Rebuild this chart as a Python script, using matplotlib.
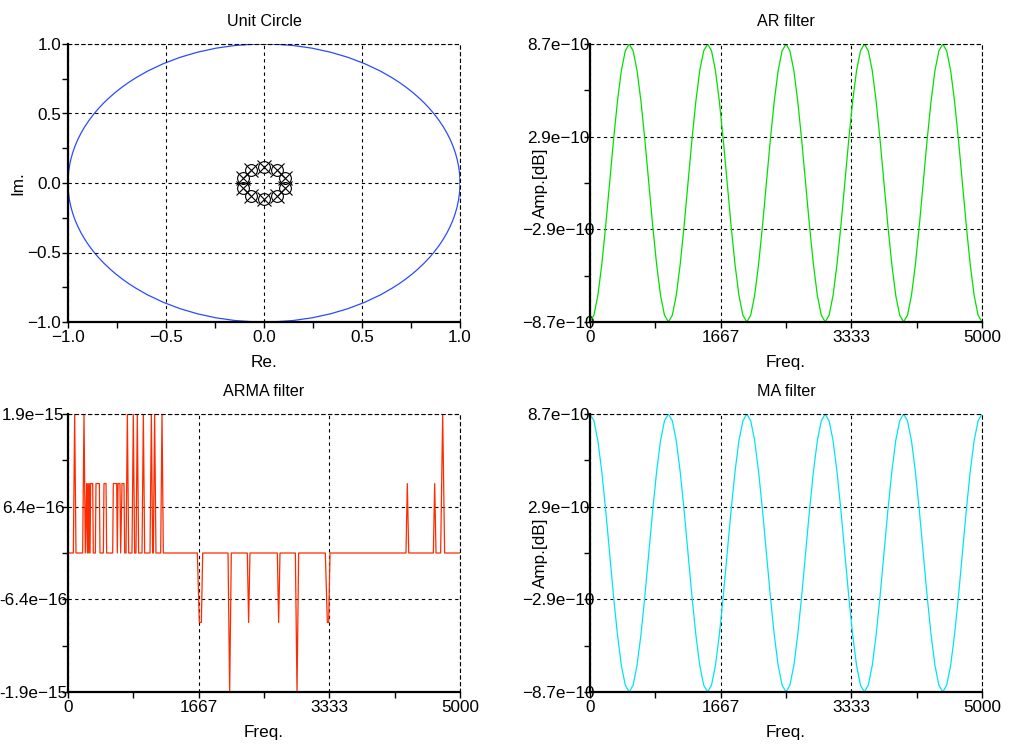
import numpy as np
import matplotlib
matplotlib.use('Agg')
import matplotlib.pyplot as plt
from matplotlib.patches import Circle

plt.rcParams['font.family'] = ['Liberation Sans', 'DejaVu Sans']
plt.rcParams['font.size'] = 12.3

# poles / zeros
pz_re = [0.105, 0.065, 0.0, -0.065, -0.105, -0.105, -0.065, 0.0, 0.065, 0.105]
pz_im = [0.036, 0.093, 0.115, 0.093, 0.036, -0.036, -0.093, -0.115, -0.093, -0.036]

# AR / MA response, sampled every 50 Hz, in units of 1e-10 dB
freq = np.linspace(0, 5000, 101)
ar_amp = [
    -8.7, -8.27, -7.04, -5.11, -2.69, 0.0, 2.69, 5.11, 7.04, 8.27, 8.7, 8.27, 7.04, 5.11, 2.69, 0.0, -2.69, -5.11, -7.04, -8.27,
    -8.7, -8.27, -7.04, -5.11, -2.69, 0.0, 2.69, 5.11, 7.04, 8.27, 8.7, 8.27, 7.04, 5.11, 2.69, 0.0, -2.69, -5.11, -7.04, -8.27,
    -8.7, -8.27, -7.04, -5.11, -2.69, 0.0, 2.69, 5.11, 7.04, 8.27, 8.7, 8.27, 7.04, 5.11, 2.69, 0.0, -2.69, -5.11, -7.04, -8.27,
    -8.7, -8.27, -7.04, -5.11, -2.69, 0.0, 2.69, 5.11, 7.04, 8.27, 8.7, 8.27, 7.04, 5.11, 2.69, 0.0, -2.69, -5.11, -7.04, -8.27,
    -8.7, -8.27, -7.04, -5.11, -2.69, 0.0, 2.69, 5.11, 7.04, 8.27, 8.7, 8.27, 7.04, 5.11, 2.69, 0.0, -2.69, -5.11, -7.04, -8.27,
    -8.7]
ma_amp = [
    8.7, 8.27, 7.04, 5.11, 2.69, 0.0, -2.69, -5.11, -7.04, -8.27, -8.7, -8.27, -7.04, -5.11, -2.69, 0.0, 2.69, 5.11, 7.04, 8.27,
    8.7, 8.27, 7.04, 5.11, 2.69, 0.0, -2.69, -5.11, -7.04, -8.27, -8.7, -8.27, -7.04, -5.11, -2.69, 0.0, 2.69, 5.11, 7.04, 8.27,
    8.7, 8.27, 7.04, 5.11, 2.69, 0.0, -2.69, -5.11, -7.04, -8.27, -8.7, -8.27, -7.04, -5.11, -2.69, 0.0, 2.69, 5.11, 7.04, 8.27,
    8.7, 8.27, 7.04, 5.11, 2.69, 0.0, -2.69, -5.11, -7.04, -8.27, -8.7, -8.27, -7.04, -5.11, -2.69, 0.0, 2.69, 5.11, 7.04, 8.27,
    8.7, 8.27, 7.04, 5.11, 2.69, 0.0, -2.69, -5.11, -7.04, -8.27, -8.7, -8.27, -7.04, -5.11, -2.69, 0.0, 2.69, 5.11, 7.04, 8.27,
    8.7]

# ARMA response (rounding noise), vertices in Hz and units of 1e-16 dB
arma_freq = [0, 68, 85, 102, 187, 204, 221, 238, 247, 255, 264, 272, 281, 289, 315, 323,
             349, 357, 400, 408, 451, 459, 485, 493, 570, 578, 621, 629, 638, 663, 672,
             689, 714, 723, 740, 757, 774, 816, 833, 850, 867, 884, 901, 944, 961, 978,
             1046, 1063, 1080, 1088, 1105, 1122, 1182, 1199, 1216,
             1650, 1675, 1701, 1718, 2041, 2062, 2083, 2287, 2304, 2321, 2670, 2687, 2704,
             2900, 2921, 2942, 3282, 3308, 3325, 3342,
             4311, 4328, 4346, 4660, 4677, 4694, 4753, 4779, 4804, 5000]
arma_amp = [0, 0, 19.3, 0, 0, 19.3, 0, 9.64, 0, 9.64, 0, 9.64, 0, 9.64, 9.64, 0,
            0, 9.64, 9.64, 0, 0, 9.64, 9.64, 0, 0, 9.64, 9.64, 0, 9.64, 9.64, 0,
            9.64, 9.64, 0, 0, 19.3, 0, 0, 19.3, 0, 0, 19.3, 0, 0, 19.3, 0,
            0, 19.3, 0, 0, 19.3, 0, 0, 19.3, 0,
            0, -9.64, -9.64, 0, 0, -19.3, 0, 0, -9.64, 0, 0, -9.64, 0,
            0, -19.3, 0, 0, -9.64, -9.64, 0,
            0, 9.64, 0, 0, 9.64, 0, 0, 19.3, 0, 0]

freq_ticks = [0, 1667, 3333, 5000]
freq_minor = [833, 2500, 4167]
freq_labels = ['0', '1667', '3333', '5000']
amp_ticks = [-8.7e-10, -2.9e-10, 2.9e-10, 8.7e-10]
amp_minor = [-5.8e-10, 0, 5.8e-10]
amp_labels = ['\u22128.7e\u221210', '\u22122.9e\u221210', '2.9e\u221210', '8.7e\u221210']
arma_ticks = [-1.93e-15, -6.43e-16, 6.43e-16, 1.93e-15]
arma_minor = [-1.29e-15, 0, 1.29e-15]
arma_labels = ['-1.9e\u221215', '-6.4e\u221216', '6.4e\u221216', '1.9e\u221215']
uc_ticks = [-1.0, -0.5, 0.0, 0.5, 1.0]
uc_minor = [-0.75, -0.25, 0.25, 0.75]
uc_labels = ['\u22121.0', '\u22120.5', '0.0', '0.5', '1.0']


def style(ax, xt, xm, xl, yt, ym, yl, ha, ypad):
    ax.set_xlim(xt[0], xt[-1])
    ax.set_ylim(yt[0], yt[-1])
    ax.set_xticks(xt, xl)
    ax.set_xticks(xm, minor=True)
    ax.set_yticks(yt, yl)
    ax.set_yticks(ym, minor=True)
    ax.grid(True, which='major', color='black', linestyle=(0, (3, 3)), linewidth=0.8)
    for s in ['top', 'right']:
        ax.spines[s].set_linestyle((0, (3, 3)))
        ax.spines[s].set_linewidth(0.8)
    for s in ['left', 'bottom']:
        ax.spines[s].set_linewidth(1.6)
    ax.tick_params(which='both', direction='out', length=4.5, width=1)
    ax.tick_params(axis='x', pad=1.5)
    ax.tick_params(axis='y', pad=ypad)
    for lab in ax.get_yticklabels():
        lab.set_ha(ha)


fig = plt.figure(figsize=(10.09, 7.44), dpi=100)
W, H = 392 / 1009, 278 / 744
ax1 = fig.add_axes([68 / 1009, 1 - 322 / 744, W, H])
ax2 = fig.add_axes([590 / 1009, 1 - 322 / 744, W, H])
ax3 = fig.add_axes([68 / 1009, 1 - 692 / 744, W, H])
ax4 = fig.add_axes([590 / 1009, 1 - 692 / 744, W, H])

title_kw = dict(fontsize=11.6, pad=13)

# unit circle
ax1.add_patch(Circle((0, 0), 1.0, fill=False, color='#2a4bff', linewidth=0.9))
ax1.plot(pz_re, pz_im, 'o', mfc='none', mec='black', ms=8.5, mew=0.8)
ax1.plot(pz_re, pz_im, 'x', color='black', ms=10.5, mew=0.8)
style(ax1, uc_ticks, uc_minor, uc_labels, uc_ticks, uc_minor, uc_labels, 'right', 0.5)
ax1.set_title('Unit Circle', **title_kw)
ax1.set_xlabel('Re.')
ax1.set_ylabel('Im.')

# AR
ax2.plot(freq, np.array(ar_amp) * 1e-10, color='#00e000', linewidth=0.9)
style(ax2, freq_ticks, freq_minor, freq_labels, amp_ticks, amp_minor, amp_labels, 'center', 18.5)
ax2.set_title('AR filter', **title_kw)
ax2.set_xlabel('Freq.')
ax2.set_ylabel('Amp.[dB]')

# ARMA
ax3.plot(arma_freq, np.array(arma_amp) * 1e-16, color='#ff2a00', linewidth=0.9)
style(ax3, freq_ticks, freq_minor, freq_labels, arma_ticks, arma_minor, arma_labels, 'center', 20.5)
ax3.set_title('ARMA filter', **title_kw)
ax3.set_xlabel('Freq.')

# MA
ax4.plot(freq, np.array(ma_amp) * 1e-10, color='#00e5f0', linewidth=0.9)
style(ax4, freq_ticks, freq_minor, freq_labels, amp_ticks, amp_minor, amp_labels, 'center', 18.5)
ax4.set_title('MA filter', **title_kw)
ax4.set_xlabel('Freq.')
ax4.set_ylabel('Amp.[dB]')

for ax in [ax1, ax2, ax3, ax4]:
    ax.xaxis.set_label_coords(0.5, -0.119)
    ax.yaxis.set_label_coords(-0.108, 0.5)

fig.savefig('out.png', dpi=100)
